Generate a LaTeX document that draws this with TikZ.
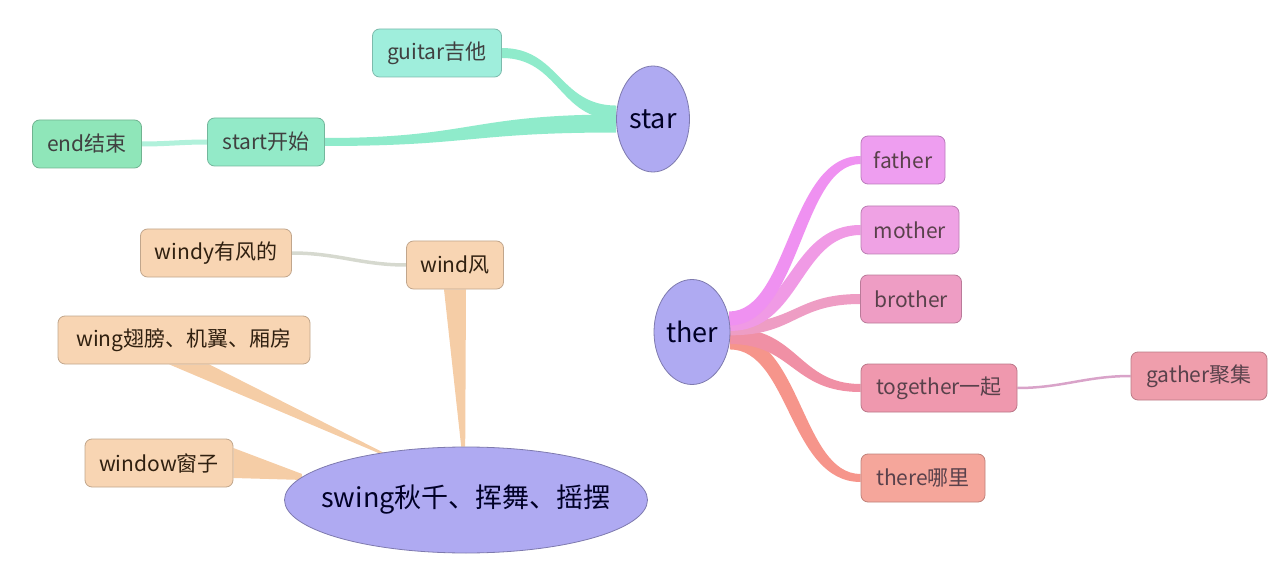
\documentclass[tikz,border=0pt]{standalone}
\usepackage{fontspec}
\newfontfamily\cjk{Noto Sans CJK SC}
\usepackage{tikz}
\usetikzlibrary{calc,shapes.geometric,backgrounds}

\definecolor{tealA}{HTML}{9FEEDC}
\definecolor{tealB}{HTML}{93EAC8}
\definecolor{tealC}{HTML}{8FE6B9}
\definecolor{tealLine}{HTML}{8FEBCB}
\definecolor{violetA}{HTML}{AFAAF2}
\definecolor{peachA}{HTML}{F8D5B3}
\definecolor{peachLine}{HTML}{F5CDA6}
\definecolor{greyLine}{HTML}{D6D9CF}
\definecolor{pinkA}{HTML}{EE9EF0}
\definecolor{pinkB}{HTML}{EFA2E4}
\definecolor{pinkC}{HTML}{EE9DC4}
\definecolor{pinkD}{HTML}{EF98AE}
\definecolor{pinkE}{HTML}{EF9EAC}
\definecolor{pinkF}{HTML}{F5A69B}
\definecolor{plumLine}{HTML}{D9A3C9}

%% tapered curved branch: from, to, root half-width, tip half-width, side shift, colour
\newcommand{\branch}[6]{%
  \path (#1) -- (#2) coordinate[pos=0.5] (bm);
  \fill[#6] ($(#1)+(0,-#3)$)
      .. controls ($(bm|-#1)+(0,-#3)-(#5,0)$) and ($(bm|-#2)+(0,-#4)-(#5,0)$) .. ($(#2)+(0,-#4)$)
      -- ($(#2)+(0,#4)$)
      .. controls ($(bm|-#2)+(0,#4)+(#5,0)$) and ($(bm|-#1)+(0,#3)+(#5,0)$) .. ($(#1)+(0,#3)$)
      -- cycle;}
%% straight wedge: wide end, narrow end, offset at wide end, offset at narrow end, colour
\newcommand{\wedgeto}[5]{%
  \fill[#5] ($(#1)+#3$) -- ($(#2)+#4$) -- ($(#2)-#4$) -- ($(#1)-#3$) -- cycle;}

\begin{document}
\begin{tikzpicture}[x=1pt,y=-1pt,
  box/.style={rectangle, rounded corners=7pt, fill=#1, draw=#1!78!black,
    line width=0.8pt, minimum height=48pt, inner sep=2pt,
    font=\cjk\fontsize{21}{24}\selectfont},
  ellip/.style={ellipse, fill=violetA, draw=violetA!72!black, line width=0.8pt,
    inner sep=0pt, text=black!75!blue!60!black,
    font=\cjk\fontsize{27}{30}\selectfont}]
  \useasboundingbox (0,0) rectangle (1280,572);

  %% ── star ──
  \node[ellip, minimum width=73pt, minimum height=106pt] (star) at (653,119) {star};
  \node[box=tealA, minimum width=129pt, text=black!75] (guitar) at (437,53) {guitar吉他};
  \node[box=tealB, minimum width=117pt, text=black!75] (start)  at (266,142) {start开始};
  \node[box=tealC, minimum width=109pt, text=black!75] (ending) at (87,144) {end结束};

  %% ── swing ──
  \node[ellip, minimum width=363pt, minimum height=106pt] (swing) at (466,500) {};
  \node[font=\cjk\fontsize{27}{30}\selectfont, text=black!75!blue!60!black] (swingtext) at (swing.center) {swing秋千、挥舞、摇摆};
  \node[box=peachA, minimum width=97pt,  text=black!75!brown] (wind)   at (455,265) {wind风};
  \node[box=peachA, minimum width=151pt, text=black!75!brown] (windy)  at (216,253) {windy有风的};
  \node[box=peachA, minimum width=252pt, text=black!75!brown] (wing)   at (184,340) {wing翅膀、机翼、厢房};
  \node[box=peachA, minimum width=148pt, text=black!75!brown] (window) at (159,463) {window窗子};

  %% ── ther ──
  \node[ellip, minimum width=76pt, minimum height=105pt] (ther) at (692,332) {ther};
  \node[box=pinkA, minimum width=84pt,  text=black!75!magenta] (father)   at (903,160) {father};
  \node[box=pinkB, minimum width=98pt,  text=black!75!magenta] (mother)   at (910,230) {mother};
  \node[box=pinkC, minimum width=101pt, text=black!75!magenta] (brother)  at (911,299) {brother};
  \node[box=pinkD, minimum width=156pt, text=black!75!magenta] (together) at (939,388) {together一起};
  \node[box=pinkE, minimum width=136pt, text=black!75!magenta] (gather)   at (1199,376) {gather聚集};
  \node[box=pinkF, minimum width=124pt, text=black!75!magenta] (there)    at (923,478) {there哪里};

  \begin{scope}[on background layer]
    %% star branches
    \branch{star.170}{guitar.east}{7}{5}{0}{tealLine}
    \branch{star.187}{start.east}{9}{4}{0}{tealLine}
    \draw[line width=5pt, tealLine!70!white] (ending.east) to[out=0,in=180] (start.west);

    %% swing wedges
    \wedgeto{wind.south}{swing.93}{(11,0)}{(2,0)}{peachLine}
    \wedgeto{wing.-78}{swing.151}{(20,0)}{(3,0)}{peachLine}
    \wedgeto{window.east}{swing.172}{(0,15)}{(0,3)}{peachLine}
    \draw[line width=3.5pt, greyLine] (windy.east) to[out=0,in=180] (wind.west);

    %% ther branches
    \branch{ther.-14}{there.west}{8}{4}{-6}{pinkF!90!red}
    \branch{ther.-6}{together.west}{8}{4}{-3}{pinkD!95!red}
    \branch{ther.4}{brother.west}{6}{5}{0}{pinkC}
    \branch{ther.12}{mother.west}{7}{5}{5}{pinkB!95!magenta}
    \branch{ther.20}{father.west}{7}{4}{6}{pinkA!92!magenta}
    \draw[line width=2.5pt, plumLine] (together.east) to[out=0,in=180] (gather.west);
  \end{scope}
\end{tikzpicture}
\end{document}
